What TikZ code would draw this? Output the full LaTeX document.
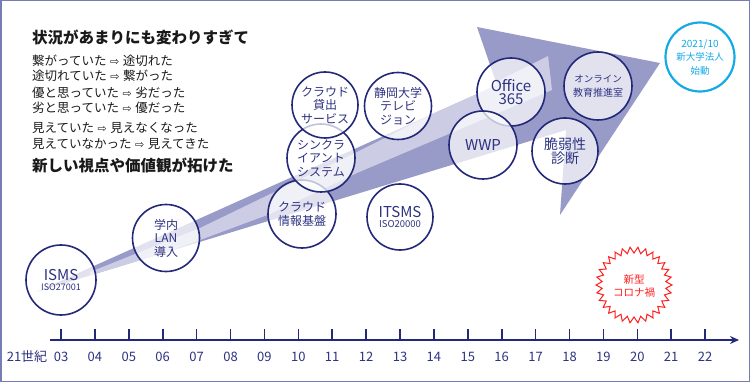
\documentclass[tikz,border=0pt]{standalone}
\usepackage{fontspec}
\newfontfamily\jp{Noto Sans CJK JP}
\newfontfamily\dv{DejaVu Sans}
\usetikzlibrary{arrows.meta}
\definecolor{navy}{RGB}{35,40,120}
\definecolor{navytxt}{RGB}{45,50,130}
\definecolor{arrowdark}{RGB}{152,154,200}
\definecolor{arrowlight}{RGB}{218,218,236}
\definecolor{framec}{RGB}{120,124,180}
\definecolor{cyanc}{RGB}{20,170,230}
\definecolor{redc}{RGB}{255,30,30}
\definecolor{txt}{RGB}{25,25,25}
\newcommand{\ar}{\hspace{3.5pt}{\dv\fontsize{11}{10}\selectfont ⇨}\hspace{3.5pt}}
\begin{document}
\begin{tikzpicture}[x=1pt,y=-1pt,
  bub/.style={circle, draw=navy, line width=1.6pt, fill=white, fill opacity=0.72, text opacity=1,
    minimum size=68pt, inner sep=0pt, align=center, text=navytxt, font=\jp\fontsize{12}{13.5}\selectfont},
  lefttxt/.style={anchor=west, inner sep=0pt, text=txt, font=\jp\fontsize{12.5}{14}\selectfont},
  headtxt/.style={anchor=west, inner sep=0pt, text=txt, font=\jp\bfseries\fontsize{15.5}{17}\selectfont},
  axlbl/.style={text=navytxt, font=\jp\fontsize{13}{14}\selectfont, inner sep=0pt}]
\useasboundingbox (0,0) rectangle (750,382);
\draw[framec, line width=1.5pt] (0.75,0.75) rectangle (749.25,381.25);

% big arrow
\coordinate (tail) at (36,292);
\coordinate (j1) at (497,85);
\coordinate (htop) at (477,27);
\coordinate (tip) at (660,63);
\coordinate (hbot) at (560,215);
\coordinate (j2) at (566,130);
\fill[arrowdark] (tail) -- (j1) -- (htop) -- (tip) -- (hbot) -- (j2) -- cycle;
\begin{scope}
\clip (tail) -- (j1) -- (htop) -- (tip) -- (hbot) -- (j2) -- cycle;
\fill[arrowlight, opacity=0.8] (90,272) -- (200,228) -- (357,152) -- (548,56) -- (552,90) -- (357,173) -- (270,214) -- (200,240) -- (90,280) -- cycle;
\end{scope}

% left text
\node[headtxt] (h1) at (32,37) {状況があまりにも変わりすぎて};
\node[lefttxt] (l1) at (32,61) {繋がっていた\ar 途切れた};
\node[lefttxt] (l2) at (32,76) {途切れていた\ar 繋がった};
\node[lefttxt] (l3) at (32,93) {優と思っていた\ar 劣だった};
\node[lefttxt] (l4) at (32,108) {劣と思っていた\ar 優だった};
\node[lefttxt] (l5) at (32,128) {見えていた\ar 見えなくなった};
\node[lefttxt] (l6) at (32,144) {見えていなかった\ar 見えてきた};
\node[headtxt] (h2) at (32,165) {新しい視点や価値観が拓けた};

% bubbles
\node[bub, minimum size=70pt] (isms) at (61,280) {{\fontsize{15}{16}\selectfont ISMS}\\[-3pt]{\fontsize{9}{10}\selectfont ISO27001}};
\node[bub, minimum size=67pt] (lan) at (166,238) {学内\\LAN\\導入};
\node[bub] (cloudinfo) at (302,214) {クラウド\\情報基盤};
\node[bub] (thin) at (321,158) {シンクラ\\イアント\\システム};
\node[bub, minimum size=66pt] (cloudlend) at (325,105) {クラウド\\貸出\\サービス};
\node[bub, minimum size=67pt] (tv) at (398,106) {静岡大学\\テレビ\\ジョン};
\node[bub, minimum size=66pt] (itsms) at (400,217) {{\fontsize{15}{16}\selectfont ITSMS}\\[-3pt]{\fontsize{9.5}{10}\selectfont ISO20000}};
\node[bub] (office) at (511,92) {{\fontsize{15}{17}\selectfont Office}\\{\fontsize{15}{17}\selectfont 365}};
\node[bub] (wwp) at (483,145) {{\fontsize{15}{17}\selectfont WWP}};
\node[bub] (online) at (598,86) {{\fontsize{9.5}{11.5}\selectfont オンライン}\\{\fontsize{10}{11.5}\selectfont 教育推進室}};
\node[bub, minimum size=66pt] (vuln) at (565,151) {{\fontsize{14}{15.5}\selectfont 脆弱性}\\{\fontsize{14}{15.5}\selectfont 診断}};
\node[bub, draw=cyanc, text=cyanc, line width=2.2pt, minimum size=69pt] (newcorp) at (700,57)
  {{\fontsize{10}{11.5}\selectfont 2021/10}\\{\fontsize{9.5}{11.5}\selectfont 新大学法人}\\{\fontsize{9.5}{11.5}\selectfont 始動}};

% corona starburst
\node[text=redc, align=center, inner sep=0pt, font=\jp\fontsize{10.5}{12.5}\selectfont] (corona) at (634,286) {新型\\コロナ禍};
\draw[redc, line width=1pt] plot[samples at={0,...,59}, variable=\i]
  ({634+ifthenelse(mod(\i,2)==0,38,32)*cos(\i*6)}, {285+ifthenelse(mod(\i,2)==0,38,32)*sin(\i*6)}) -- cycle;

% time axis
\coordinate (axs) at (50,340);
\coordinate (axe) at (739,340);
\draw[navy, line width=1.8pt, -{Stealth[length=9pt,width=8pt,inset=3pt]}] (axs) -- (axe);
\foreach \yr/\lab in {3/03,4/04,5/05,6/06,7/07,8/08,9/09,10/10,11/11,12/12,13/13,14/14,15/15,16/16,17/17,18/18,19/19,20/20,21/21,22/22}{
  \draw[navy, line width=1.6pt] ({61+33.9*(\yr-3)},340) -- ++(0,-11);
  \node[axlbl] (y\lab) at ({61+33.9*(\yr-3)},357) {\lab};
}
\node[axlbl] (century) at (27,357) {21世紀};
\end{tikzpicture}
\end{document}
